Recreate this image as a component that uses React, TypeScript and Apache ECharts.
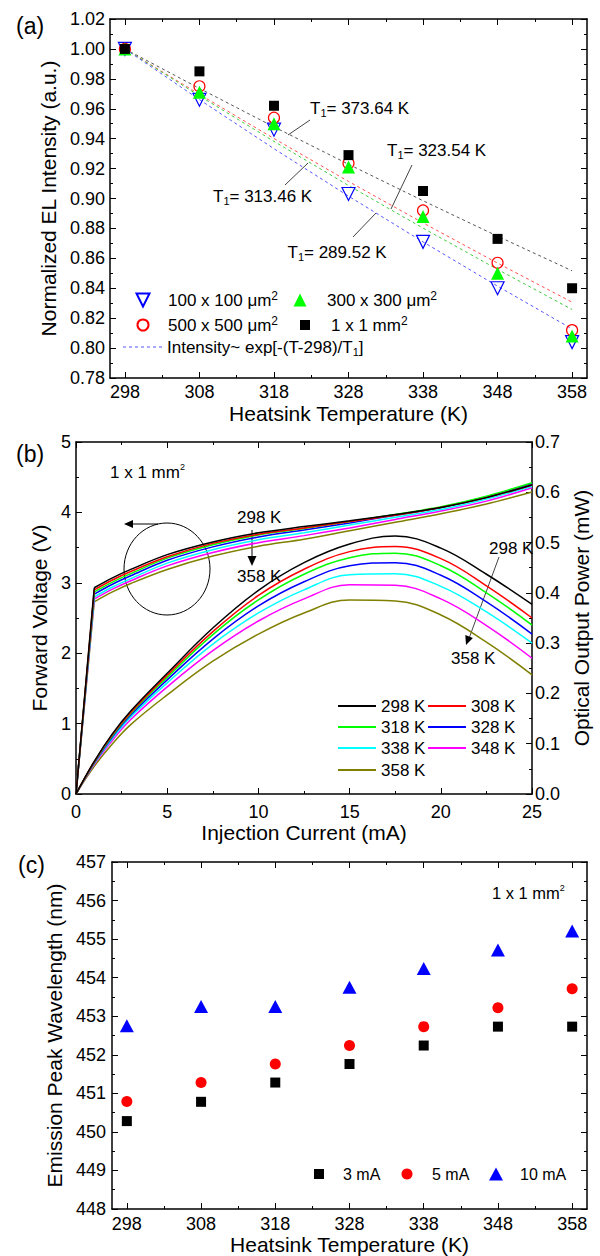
import React, { useEffect, useRef } from "react";
import * as echarts from "echarts";

// ---------- shared ----------
const temps = [298, 308, 318, 328, 338, 348, 358];
const tempMinorTicks = [303, 313, 323, 333, 343, 353];

// ---------- panel (a): normalized EL intensity ----------
const el100 = [1.0, 0.966, 0.946, 0.903, 0.871, 0.84, 0.804];
const el300 = [1.0, 0.971, 0.95, 0.921, 0.888, 0.85, 0.808];
const el500 = [1.0, 0.975, 0.954, 0.9235, 0.892, 0.857, 0.812];
const el1mm = [1.0, 0.985, 0.962, 0.929, 0.905, 0.873, 0.84];
const fit100 = [1.0, 0.9661, 0.9333, 0.9016, 0.871, 0.8414, 0.8128];
const fit300 = [1.0, 0.9686, 0.9382, 0.9087, 0.8802, 0.8526, 0.8258];
const fit500 = [1.0, 0.9696, 0.9401, 0.9114, 0.8837, 0.8568, 0.8307];
const fit1mm = [1.0, 0.9736, 0.9479, 0.9229, 0.8985, 0.8748, 0.8517];

// ---------- panel (b): voltage & optical power vs current ----------
const current = [0, 1, 2, 3, 5, 7.5, 10, 12.5, 15, 17.5, 20, 22.5, 25];
const v298 = [0, 2.93, 3.07, 3.19, 3.4, 3.58, 3.71, 3.8, 3.88, 3.97, 4.07, 4.21, 4.39];
const v308 = [0, 2.9, 3.04, 3.16, 3.37, 3.56, 3.69, 3.78, 3.87, 3.96, 4.07, 4.21, 4.39];
const v318 = [0, 2.87, 3.01, 3.13, 3.35, 3.54, 3.68, 3.77, 3.87, 3.97, 4.08, 4.23, 4.42];
const v328 = [0, 2.84, 2.98, 3.1, 3.32, 3.51, 3.65, 3.75, 3.85, 3.96, 4.07, 4.22, 4.41];
const v338 = [0, 2.8, 2.94, 3.06, 3.28, 3.47, 3.61, 3.71, 3.82, 3.93, 4.04, 4.19, 4.37];
const v348 = [0, 2.77, 2.91, 3.03, 3.24, 3.43, 3.57, 3.67, 3.78, 3.9, 4.02, 4.16, 4.35];
const v358 = [0, 2.73, 2.87, 2.99, 3.19, 3.38, 3.52, 3.62, 3.74, 3.86, 3.98, 4.12, 4.29];
const p298 = [0, 0.065, 0.12, 0.165, 0.24, 0.33, 0.405, 0.46, 0.497, 0.513, 0.489, 0.437, 0.377];
const p308 = [0, 0.064, 0.118, 0.162, 0.236, 0.323, 0.395, 0.447, 0.482, 0.492, 0.468, 0.414, 0.35];
const p318 = [0, 0.063, 0.116, 0.16, 0.232, 0.317, 0.386, 0.437, 0.47, 0.479, 0.454, 0.4, 0.336];
const p328 = [0, 0.062, 0.114, 0.157, 0.227, 0.308, 0.374, 0.422, 0.454, 0.46, 0.435, 0.382, 0.318];
const p338 = [0, 0.061, 0.111, 0.153, 0.221, 0.298, 0.36, 0.406, 0.436, 0.438, 0.413, 0.362, 0.3];
const p348 = [0, 0.059, 0.107, 0.148, 0.213, 0.285, 0.344, 0.388, 0.416, 0.415, 0.388, 0.335, 0.27];
const p358 = [0, 0.055, 0.1, 0.138, 0.197, 0.264, 0.318, 0.36, 0.386, 0.384, 0.356, 0.302, 0.237];
const tempNames = ["298 K", "308 K", "318 K", "328 K", "338 K", "348 K", "358 K"];
const tempColors = ["#000000", "#ff0000", "#00ff00", "#0000ff", "#00ffff", "#ff00ff", "#808000"];
const voltages = [v298, v308, v318, v328, v338, v348, v358];
const powers = [p298, p308, p318, p328, p338, p348, p358];

// ---------- panel (c): emission peak wavelength ----------
const wl3mA = [450.28, 450.78, 451.28, 451.76, 452.24, 452.73, 452.73];
const wl5mA = [450.79, 451.28, 451.76, 452.24, 452.73, 453.22, 453.71];
const wl10mA = [452.75, 453.25, 453.25, 453.75, 454.24, 454.72, 455.21];

const FONT = '"Liberation Sans", Arial, Helvetica, sans-serif';
const lineSt = { color: "#000", width: 1.5 };
const tickSt = { color: "#000", width: 1 };
const nameSt = { fontSize: 21, color: "#000", fontFamily: FONT };
const labelSt = { fontSize: 18, color: "#000", fontFamily: FONT };

const FIT_NAME = "Intensity~ exp[-(T-298)/T1]";
const DOWN_TRI = "path://M0,0L20,0L10,20Z";
const DASH_ICON = "path://M0,0h3v1h-3zM6,0h3v1h-3zM12,0h3v1h-3zM18,0h3v1h-3zM24,0h3v1h-3zM30,0h3v1h-3zM36,0h3v1h-3z";

function tempAxes(gridIndex: number, nameGap: number, labelMargin: number) {
  const base = { type: "value", gridIndex, min: 296, max: 360, splitLine: { show: false } };
  return [
    {
      ...base,
      position: "bottom",
      axisLine: { show: true, onZero: false, lineStyle: lineSt },
      axisTick: { show: true, inside: true, length: 6, customValues: temps, lineStyle: tickSt },
      axisLabel: { show: true, customValues: temps, margin: labelMargin, ...labelSt },
      name: "Heatsink Temperature (K)",
      nameLocation: "middle",
      nameGap,
      nameTextStyle: nameSt,
    },
    {
      ...base,
      position: "bottom",
      axisLine: { show: false, onZero: false },
      axisTick: { show: true, inside: true, length: 3, customValues: tempMinorTicks, lineStyle: tickSt },
      axisLabel: { show: false },
    },
    {
      ...base,
      position: "top",
      axisLine: { show: true, onZero: false, lineStyle: lineSt },
      axisTick: { show: true, inside: true, length: 6, customValues: temps, lineStyle: tickSt },
      axisLabel: { show: false },
    },
    {
      ...base,
      position: "top",
      axisLine: { show: false, onZero: false },
      axisTick: { show: true, inside: true, length: 3, customValues: tempMinorTicks, lineStyle: tickSt },
      axisLabel: { show: false },
    },
  ];
}

function valAxis(o: any) {
  return {
    type: "value",
    splitLine: { show: false },
    axisLine: { show: true, onZero: false, lineStyle: lineSt },
    axisTick: { show: true, inside: true, length: 6, lineStyle: tickSt },
    minorTick: { show: true, splitNumber: 2, length: 3, lineStyle: tickSt },
    ...o,
  };
}

const tRich = {
  t: { fontSize: 17, lineHeight: 20, fontFamily: FONT, color: "#000" },
  s: { fontSize: 11, lineHeight: 11, verticalAlign: "bottom", fontFamily: FONT, color: "#000" },
  p: { fontSize: 12, lineHeight: 12, verticalAlign: "top", fontFamily: FONT, color: "#000" },
};

function tText(x: number, y: number, val: string) {
  return {
    type: "text",
    x,
    y,
    style: {
      text: `{t|T}{s|1}{t|= ${val}}`,
      rich: tRich,
      verticalAlign: "middle",
      fontFamily: FONT,
    },
  };
}

function plainText(x: number, y: number, text: string, size: number) {
  return {
    type: "text",
    x,
    y,
    style: { text, fontSize: size, fontFamily: FONT, fill: "#000", verticalAlign: "middle" },
  };
}

function mmText(x: number, y: number, size: number) {
  return {
    type: "text",
    x,
    y,
    style: {
      text: "{m|1 x 1 mm}{q|2}",
      rich: {
        m: { fontSize: size, lineHeight: 20, fontFamily: FONT, color: "#000" },
        q: { fontSize: 9, lineHeight: 10, verticalAlign: "top", fontFamily: FONT, color: "#000" },
      },
      verticalAlign: "middle",
    },
  };
}

function seg(x1: number, y1: number, x2: number, y2: number, color = "#444") {
  return { type: "line", shape: { x1, y1, x2, y2 }, style: { stroke: color, lineWidth: 1 } };
}

function legendItem(
  name: string, left: number, cy: number, w: number, h: number, padLeft: number,
  size = 17, formatter?: any, icon?: string
) {
  const l: any = {
    data: [name],
    left,
    top: cy - 10,
    padding: 0,
    itemWidth: w,
    itemHeight: h,
    selectedMode: false,
    textStyle: {
      fontSize: size,
      lineHeight: 20,
      color: "#000",
      fontFamily: FONT,
      padding: [0, 0, 0, padLeft],
      rich: tRich,
    },
  };
  if (formatter) l.formatter = formatter;
  if (icon) l.icon = icon;
  return l;
}

const supFmt = (txt: string) => () => `{t|${txt}}{p|2}`;

export default function App() {
  const ref = useRef<HTMLDivElement>(null);
  useEffect(() => {
    const chart = echarts.init(ref.current!, null, { renderer: "svg" });

    const series: any[] = [];
    // (a) fit lines
    const fits = [
      { n: "fit 1x1 mm", d: fit1mm, c: "#555555" },
      { n: "fit 500", d: fit500, c: "#ff5050" },
      { n: "fit 300", d: fit300, c: "#40cc40" },
      { n: FIT_NAME, d: fit100, c: "#5555ff" },
    ];
    fits.forEach((f) =>
      series.push({
        type: "line",
        name: f.n,
        xAxisIndex: 0,
        yAxisIndex: 0,
        data: temps.map((t, i) => [t, f.d[i]]),
        symbol: "none",
        lineStyle: { type: [3, 3], width: 1, color: f.c },
        itemStyle: { color: f.c },
        z: 1,
      })
    );
    const open = "rgba(255,255,255,0)";
    series.push({
      type: "scatter", name: "100 x 100 μm²", xAxisIndex: 0, yAxisIndex: 0,
      data: temps.map((t, i) => [t, el100[i]]),
      symbol: DOWN_TRI, symbolSize: 13,
      itemStyle: { color: open, borderColor: "#0000ff", borderWidth: 1.2, opacity: 1 }, z: 3,
    });
    series.push({
      type: "scatter", name: "500 x 500 μm²", xAxisIndex: 0, yAxisIndex: 0,
      data: temps.map((t, i) => [t, el500[i]]),
      symbol: "circle", symbolSize: 11,
      itemStyle: { color: open, borderColor: "#ff0000", borderWidth: 1.2, opacity: 1 }, z: 4,
    });
    series.push({
      type: "scatter", name: "300 x 300 μm²", xAxisIndex: 0, yAxisIndex: 0,
      data: temps.map((t, i) => [t, el300[i]]),
      symbol: "triangle", symbolSize: 13,
      itemStyle: { color: "#00ff00", opacity: 1 }, z: 5,
    });
    series.push({
      type: "scatter", name: "1 x 1 mm²", xAxisIndex: 0, yAxisIndex: 0,
      data: temps.map((t, i) => [t, el1mm[i]]),
      symbol: "rect", symbolSize: 10,
      itemStyle: { color: "#000000", opacity: 1 }, z: 6,
    });

    // (b) voltage: steep turn-on segment (0-1 mA) + smooth remainder
    tempNames.forEach((n, k) => {
      const pts = current.map((c, i) => [c, voltages[k][i]]);
      series.push({
        type: "line", name: n, xAxisIndex: 4, yAxisIndex: 2,
        data: pts.slice(1),
        symbol: "none", smooth: 0.35,
        lineStyle: { width: 1.5, color: tempColors[k] }, itemStyle: { color: tempColors[k] },
        z: 10 - k,
      });
      series.push({
        type: "line", name: n, xAxisIndex: 4, yAxisIndex: 2,
        data: pts.slice(0, 2),
        symbol: "none",
        lineStyle: { width: 1.5, color: tempColors[k] }, itemStyle: { color: tempColors[k] },
        z: 10 - k,
      });
    });
    tempNames.forEach((n, k) => {
      series.push({
        type: "line", name: n, xAxisIndex: 4, yAxisIndex: 3,
        data: current.map((c, i) => [c, powers[k][i]]),
        symbol: "none", smooth: 0.4,
        lineStyle: { width: 1.5, color: tempColors[k] }, itemStyle: { color: tempColors[k] },
        z: 10 - k,
      });
    });

    // (c)
    series.push({
      type: "scatter", name: "3 mA", xAxisIndex: 6, yAxisIndex: 4,
      data: temps.map((t, i) => [t, wl3mA[i]]),
      symbol: "rect", symbolSize: 10, itemStyle: { color: "#000", opacity: 1 },
    });
    series.push({
      type: "scatter", name: "5 mA", xAxisIndex: 6, yAxisIndex: 4,
      data: temps.map((t, i) => [t, wl5mA[i]]),
      symbol: "circle", symbolSize: 11, itemStyle: { color: "#ff0000", opacity: 1 },
    });
    series.push({
      type: "scatter", name: "10 mA", xAxisIndex: 6, yAxisIndex: 4,
      data: temps.map((t, i) => [t, wl10mA[i]]),
      symbol: "triangle", symbolSize: [14, 13], itemStyle: { color: "#0000ff", opacity: 1 },
    });

    const bLegendPos = [
      [338, 706], [428, 706], [338, 727], [428, 727], [338, 748], [428, 748], [338, 770],
    ];

    const option: any = {
      animation: false,
      backgroundColor: "#ffffff",
      textStyle: { fontFamily: FONT },
      grid: [
        { left: 110, top: 19, width: 477, height: 359 },
        { left: 76, top: 442, width: 461, height: 352 },
        { left: 112, top: 862, width: 475, height: 347 },
      ],
      xAxis: [
        ...tempAxes(0, 25, 5),
        valAxis({
          gridIndex: 1, position: "bottom", min: 0, max: 25, interval: 5,
          axisLabel: { margin: 9, ...labelSt },
          name: "Injection Current (mA)", nameLocation: "middle", nameGap: 22, nameTextStyle: nameSt,
        }),
        valAxis({ gridIndex: 1, position: "top", min: 0, max: 25, interval: 5, axisLabel: { show: false } }),
        ...tempAxes(2, 19, 6),
      ],
      yAxis: [
        valAxis({
          gridIndex: 0, position: "left", min: 0.78, max: 1.02, interval: 0.02,
          axisLabel: { margin: 5, ...labelSt, formatter: (v: number) => v.toFixed(2) },
          name: "Normalized EL Intensity (a.u.)", nameLocation: "middle", nameRotate: 90, nameGap: 46,
          nameTextStyle: nameSt,
        }),
        valAxis({ gridIndex: 0, position: "right", min: 0.78, max: 1.02, interval: 0.02, axisLabel: { show: false } }),
        valAxis({
          gridIndex: 1, position: "left", min: 0, max: 5, interval: 1,
          axisLabel: { margin: 5, ...labelSt },
          name: "Forward Voltage (V)", nameLocation: "middle", nameRotate: 90, nameGap: 23,
          nameTextStyle: nameSt,
        }),
        valAxis({
          gridIndex: 1, position: "right", min: 0, max: 0.7, interval: 0.1,
          axisLabel: { margin: 3, ...labelSt, formatter: (v: number) => v.toFixed(1) },
          name: "Optical Output Power (mW)", nameLocation: "middle", nameRotate: 90, nameGap: 33,
          nameTextStyle: nameSt,
        }),
        valAxis({
          gridIndex: 2, position: "left", min: 448, max: 457, interval: 1,
          axisLabel: { margin: 6, ...labelSt },
          name: "Emission Peak Wavelength (nm)", nameLocation: "middle", nameRotate: 90, nameGap: 42,
          nameTextStyle: nameSt,
        }),
        valAxis({ gridIndex: 2, position: "right", min: 448, max: 457, interval: 1, axisLabel: { show: false } }),
      ],
      legend: [
        legendItem("100 x 100 μm²", 135.5, 300, 13, 13, 13.5, 17, supFmt("100 x 100 μm")),
        legendItem("300 x 300 μm²", 293.5, 300, 13, 13, 15.5, 17, supFmt("300 x 300 μm")),
        legendItem("500 x 500 μm²", 136.5, 325, 11, 11, 14.5, 17, supFmt("500 x 500 μm")),
        legendItem("1 x 1 mm²", 300, 325, 10, 10, 16, 17, supFmt("1 x 1 mm")),
        legendItem(FIT_NAME, 123, 347, 39, 1.2, 0, 17, () => "{t|Intensity~ exp[-(T-298)/T}{s|1}{t|]}", DASH_ICON),
        ...tempNames.map((n, k) => legendItem(n, bLegendPos[k][0], bLegendPos[k][1], 38, 2, 0, 17, undefined, "rect")),
        legendItem("3 mA", 314, 1174, 10, 10, 14, 16),
        legendItem("5 mA", 401.5, 1174, 11, 11, 14.5, 16),
        legendItem("10 mA", 489, 1174, 14, 13, 12, 16),
      ],
      graphic: {
        elements: [
          plainText(16, 26, "(a)", 23),
          plainText(16, 454, "(b)", 23),
          plainText(18, 865, "(c)", 23),
          // (a) annotations
          tText(310, 108, "373.64 K"),
          tText(387, 150, "323.54 K"),
          tText(213, 196, "313.46 K"),
          tText(287.5, 252, "289.52 K"),
          seg(288, 135, 310, 120),
          seg(412, 165, 391, 209),
          seg(285, 185, 308, 163),
          seg(353, 237, 376, 213),
          // (b) annotations
          mmText(110, 472, 17),
          plainText(237, 517, "298 K", 17),
          plainText(237, 576, "358 K", 17),
          seg(252, 530, 252, 557, "#000"),
          { type: "polygon", shape: { points: [[247.5, 556], [256.5, 556], [252, 566]] }, style: { fill: "#000" } },
          { type: "ellipse", shape: { cx: 167, cy: 569, rx: 43, ry: 46 }, style: { fill: "none", stroke: "#000", lineWidth: 1 } },
          seg(158, 524, 130, 524, "#000"),
          { type: "polygon", shape: { points: [[124, 524], [133, 520], [133, 528]] }, style: { fill: "#000" } },
          plainText(489, 548, "298 K", 17),
          plainText(451, 658, "358 K", 17),
          seg(499, 557, 469.5, 637, "#444"),
          { type: "polygon", shape: { points: [[466, 645], [472.9, 637.9], [465.3, 635.1]] }, style: { fill: "#000" } },
          // (c)
          mmText(492, 893, 16.5),
        ],
      },
      series,
    };
    chart.setOption(option);
    return () => chart.dispose();
  }, []);
  return (
    <div
      ref={ref}
      style={{ position: "fixed", left: 0, top: 0, width: 600, height: 1256, background: "#fff" }}
    />
  );
}
